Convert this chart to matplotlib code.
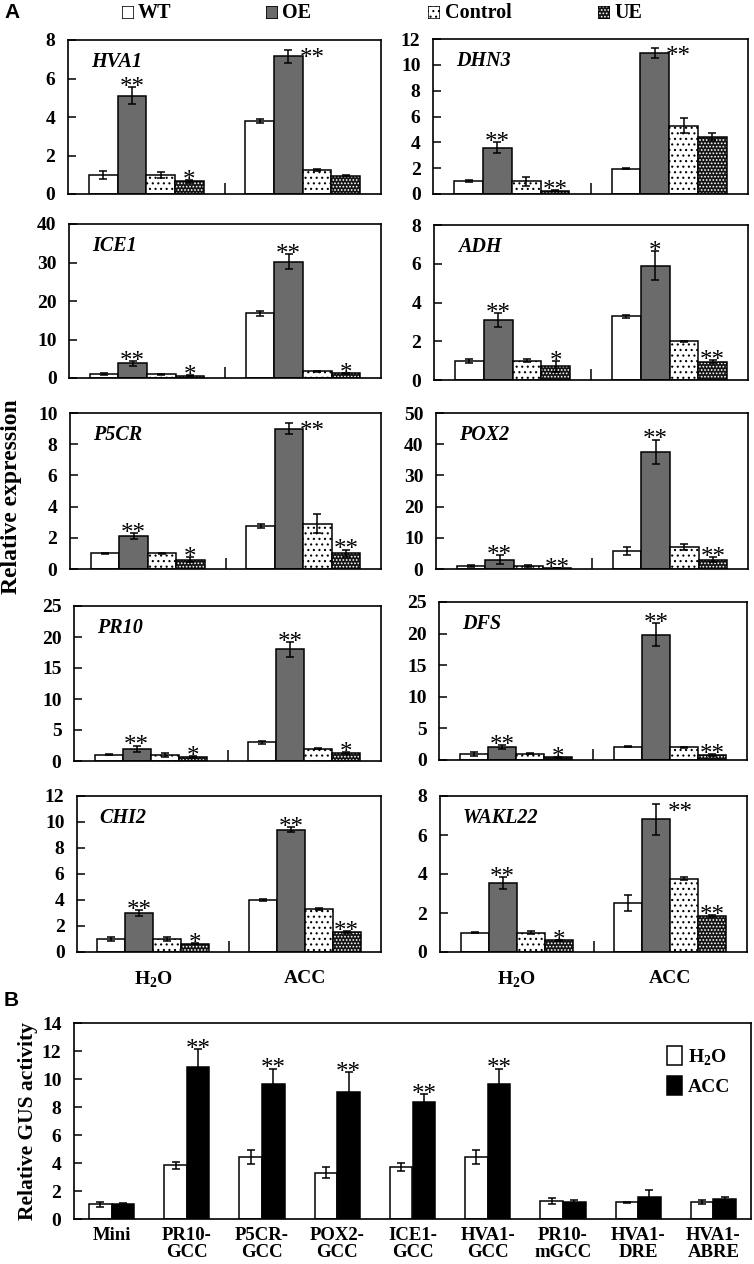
import matplotlib
matplotlib.use('agg')
import matplotlib.pyplot as plt
import numpy as np

plt.rcParams['font.family'] = ['Liberation Serif', 'DejaVu Serif']
plt.rcParams['font.weight'] = 'bold'
plt.rcParams['axes.labelweight'] = 'bold'
plt.rcParams['mathtext.fontset'] = 'custom'
plt.rcParams['mathtext.rm'] = 'Liberation Serif:bold'
plt.rcParams['mathtext.bf'] = 'Liberation Serif:bold'
plt.rcParams['hatch.linewidth'] = 0.8
plt.rcParams['axes.linewidth'] = 1.2

W, H = 754, 1264

# ---- panel A data: rows = [H2O, ACC], columns = [WT, OE, Control, UE]
treatments = ['H$_2$O', 'ACC']
lines = ['WT', 'OE', 'Control', 'UE']

hva1_mean = [[1.0, 5.1, 1.0, 0.65], [3.8, 7.15, 1.25, 0.95]]
hva1_err = [[0.2, 0.45, 0.15, 0.08], [0.12, 0.35, 0.05, 0.03]]
hva1_sig = [['', '**', '', '*'], ['', '**', '', '']]

dhn3_mean = [[1.0, 3.6, 1.0, 0.25], [1.95, 10.9, 5.3, 4.45]]
dhn3_err = [[0.1, 0.4, 0.35, 0.05], [0.05, 0.4, 0.6, 0.3]]
dhn3_sig = [['', '**', '', '**'], ['', '**', '', '']]

ice1_mean = [[1.0, 3.8, 1.0, 0.6], [16.8, 30.2, 1.7, 1.2]]
ice1_err = [[0.2, 0.7, 0.1, 0.1], [0.7, 2.0, 0.1, 0.1]]
ice1_sig = [['', '**', '', '*'], ['', '**', '', '*']]

adh_mean = [[1.0, 3.1, 1.0, 0.7], [3.3, 5.9, 2.0, 0.95]]
adh_err = [[0.1, 0.35, 0.08, 0.3], [0.08, 0.75, 0.03, 0.07]]
adh_sig = [['', '**', '', '*'], ['', '*', '', '**']]

p5cr_mean = [[1.0, 2.1, 1.0, 0.6], [2.75, 9.0, 2.9, 1.0]]
p5cr_err = [[0.05, 0.2, 0.05, 0.15], [0.12, 0.35, 0.6, 0.25]]
p5cr_sig = [['', '**', '', '*'], ['', '**', '', '**']]

pox2_mean = [[1.0, 3.0, 1.0, 0.3], [5.8, 37.5, 7.0, 3.0]]
pox2_err = [[0.3, 1.5, 0.3, 0.1], [1.3, 4.0, 1.0, 0.9]]
pox2_sig = [['', '**', '', '**'], ['', '**', '', '**']]

pr10_mean = [[1.0, 2.0, 1.0, 0.6], [3.0, 18.0, 2.0, 1.3]]
pr10_err = [[0.1, 0.5, 0.3, 0.15], [0.25, 1.2, 0.1, 0.1]]
pr10_sig = [['', '**', '', '*'], ['', '**', '', '*']]

dfs_mean = [[1.0, 2.1, 1.0, 0.4], [2.1, 19.8, 2.0, 0.8]]
dfs_err = [[0.3, 0.3, 0.1, 0.05], [0.05, 1.8, 0.1, 0.1]]
dfs_sig = [['', '**', '', '*'], ['', '**', '', '**']]

chi2_mean = [[1.0, 3.0, 1.0, 0.65], [4.0, 9.4, 3.3, 1.55]]
chi2_err = [[0.12, 0.25, 0.12, 0.05], [0.1, 0.2, 0.1, 0.05]]
chi2_sig = [['', '**', '', '*'], ['', '**', '', '**']]

wakl22_mean = [[1.0, 3.55, 1.0, 0.6], [2.5, 6.8, 3.75, 1.85]]
wakl22_err = [[0.05, 0.3, 0.1, 0.02], [0.4, 0.8, 0.08, 0.04]]
wakl22_sig = [['', '**', '', '*'], ['', '**', '', '**']]

# gene, mean, err, sig, y max, y step
panels = [
    ('HVA1', hva1_mean, hva1_err, hva1_sig, 8, 2),
    ('DHN3', dhn3_mean, dhn3_err, dhn3_sig, 12, 2),
    ('ICE1', ice1_mean, ice1_err, ice1_sig, 40, 10),
    ('ADH', adh_mean, adh_err, adh_sig, 8, 2),
    ('P5CR', p5cr_mean, p5cr_err, p5cr_sig, 10, 2),
    ('POX2', pox2_mean, pox2_err, pox2_sig, 50, 10),
    ('PR10', pr10_mean, pr10_err, pr10_sig, 25, 5),
    ('DFS', dfs_mean, dfs_err, dfs_sig, 25, 5),
    ('CHI2', chi2_mean, chi2_err, chi2_sig, 12, 2),
    ('WAKL22', wakl22_mean, wakl22_err, wakl22_sig, 8, 2),
]

# ---- panel B data
constructs = ['Mini', 'PR10-\nGCC', 'P5CR-\nGCC', 'POX2-\nGCC', 'ICE1-\nGCC',
              'HVA1-\nGCC', 'PR10-\nmGCC', 'HVA1-\nDRE', 'HVA1-\nABRE']
gus_h2o = [1.05, 3.85, 4.45, 3.3, 3.7, 4.45, 1.3, 1.2, 1.2]
gus_h2o_err = [0.2, 0.25, 0.5, 0.4, 0.3, 0.5, 0.2, 0.05, 0.15]
gus_acc = [1.05, 10.85, 9.65, 9.1, 8.35, 9.65, 1.2, 1.6, 1.45]
gus_acc_err = [0.12, 1.3, 1.1, 1.4, 0.6, 1.1, 0.15, 0.5, 0.15]
gus_sig = ['', '**', '**', '**', '**', '**', '', '', '']

OE_GREY = '#6b6b6b'
UE_DARK = '#141414'


def px_axes(fig, l, t, r, b):
    return fig.add_axes([l / W, 1 - b / H, (r - l) / W, (b - t) / H])


def draw_bars(ax, xs, h, w, style):
    if style == 0:
        ax.bar(xs, h, w, color='white', edgecolor='black', linewidth=1.1, zorder=2)
    elif style == 1:
        ax.bar(xs, h, w, color=OE_GREY, edgecolor='black', linewidth=1.1, zorder=2)
    elif style == 2:
        ax.bar(xs, h, w, color='white', edgecolor='black', hatch='...', linewidth=0, zorder=2)
        ax.bar(xs, h, w, fill=False, edgecolor='black', linewidth=1.1, zorder=2)
    else:
        ax.bar(xs, h, w, color=UE_DARK, edgecolor='white', hatch='.....', linewidth=0, zorder=2)
        ax.bar(xs, h, w, fill=False, edgecolor='black', linewidth=1.1, zorder=2)


def star(ax, x, top, s, ymax):
    if not s:
        return
    if top > 0.9 * ymax:
        ax.annotate(s, (x, top), xytext=(8, -11), textcoords='offset points',
                    ha='left', va='baseline', fontsize=18, fontweight='normal')
    else:
        ax.annotate(s, (x, top), xytext=(0, -5), textcoords='offset points',
                    ha='center', va='baseline', fontsize=18, fontweight='normal')


def expr_panel(ax, name, mean, err, sig, ymax, ystep, bottom_row):
    mean = np.array(mean)
    err = np.array(err)
    x = np.arange(len(treatments))
    bw = 0.183
    for j in range(len(lines)):
        xs = x + (j - 1.5) * bw
        draw_bars(ax, xs, mean[:, j], bw, j)
        ax.errorbar(xs, mean[:, j], yerr=err[:, j], fmt='none', ecolor='black',
                    elinewidth=1.1, capsize=3, capthick=1.1, zorder=3)
        for k in range(len(treatments)):
            star(ax, xs[k], mean[k, j] + err[k, j], sig[k][j], ymax)
    ax.set_xlim(-0.5, 1.5)
    ax.set_ylim(0, ymax)
    ax.set_yticks(np.arange(0, ymax + 0.1, ystep))
    ax.tick_params(axis='y', direction='in', length=6, width=1.1, labelsize=14, pad=9)
    ax.set_xticks([0.5])
    ax.set_xticklabels([])
    ax.tick_params(axis='x', which='major', direction='in', length=8, width=1.1)
    if bottom_row:
        ax.set_xticks(x, minor=True)
        ax.set_xticklabels(treatments, minor=True, fontsize=14)
        ax.tick_params(axis='x', which='minor', length=0, pad=13)
    ax.text(0.075, 0.86, name, transform=ax.transAxes, fontsize=14.5,
            style='italic', va='center', ha='left')


fig = plt.figure(figsize=(W / 100, H / 100), dpi=100)

left_cols = [(68, 40, 381, 194), (69, 224, 381, 378), (70, 413, 381, 569),
             (74, 606, 381, 761), (77, 796, 381, 952)]
right_cols = [(433, 39, 748, 194), (434, 225, 748, 380), (436, 413, 748, 569),
              (439, 602, 747, 760), (440, 796, 747, 952)]

for i, (name, mean, err, sig, ymax, ystep) in enumerate(panels):
    row, col = i // 2, i % 2
    box = left_cols[row] if col == 0 else right_cols[row]
    ax = px_axes(fig, *box)
    expr_panel(ax, name, mean, err, sig, ymax, ystep, row == 4)

fig.text(12 / W, 1 - 497 / H, 'Relative expression', rotation=90,
         fontsize=17, ha='center', va='center')

# top legend of panel A
legend_x = [(122, 138), (266, 282), (428, 445), (598, 614)]
for j, (ix, tx) in enumerate(legend_x):
    lax = px_axes(fig, ix, 6, ix + 12, 19)
    lax.set_xlim(0, 1)
    lax.set_ylim(0, 1)
    lax.axis('off')
    draw_bars(lax, [0.5], [1], 1, j)
    fig.text(tx / W, 1 - 13 / H, lines[j], fontsize=14.5, ha='left', va='center')

fig.text(4 / W, 1 - 13 / H, 'A', fontsize=15, family='Liberation Sans', ha='left', va='center')
fig.text(4 / W, 1 - 1000 / H, 'B', fontsize=15, family='Liberation Sans', ha='left', va='center')

# ---- panel B
axb = px_axes(fig, 74, 1023, 751, 1219)
xb = np.arange(len(constructs))
bwb = 0.3
axb.bar(xb - bwb / 2, gus_h2o, bwb, color='white', edgecolor='black', linewidth=1.1,
        label='H$_2$O', zorder=2)
axb.bar(xb + bwb / 2, gus_acc, bwb, color='black', edgecolor='black', linewidth=1.1,
        label='ACC', zorder=2)
axb.errorbar(xb - bwb / 2, gus_h2o, yerr=gus_h2o_err, fmt='none', ecolor='black',
             elinewidth=1.1, capsize=3, capthick=1.1, zorder=3)
axb.errorbar(xb + bwb / 2, gus_acc, yerr=gus_acc_err, fmt='none', ecolor='black',
             elinewidth=1.1, capsize=3, capthick=1.1, zorder=3)
for k in range(len(constructs)):
    star(axb, xb[k] + bwb / 2, gus_acc[k] + gus_acc_err[k], gus_sig[k], 100)
axb.set_xlim(-0.5, len(constructs) - 0.5)
axb.set_ylim(0, 14)
axb.set_yticks(np.arange(0, 15, 2))
axb.tick_params(axis='y', direction='in', length=6, width=1.1, labelsize=14, pad=9)
axb.set_xticks(xb)
axb.set_xticklabels(constructs, fontsize=13.5, linespacing=0.95)
axb.tick_params(axis='x', length=0, pad=6)
axb.set_ylabel('Relative GUS activity', fontsize=15.5, labelpad=3)
axb.legend(loc='upper right', bbox_to_anchor=(0.995, 0.97), frameon=False, fontsize=14,
           handlelength=0.75, handleheight=1.1, handletextpad=0.3, labelspacing=0.45)

fig.savefig('out.png', dpi=100)
